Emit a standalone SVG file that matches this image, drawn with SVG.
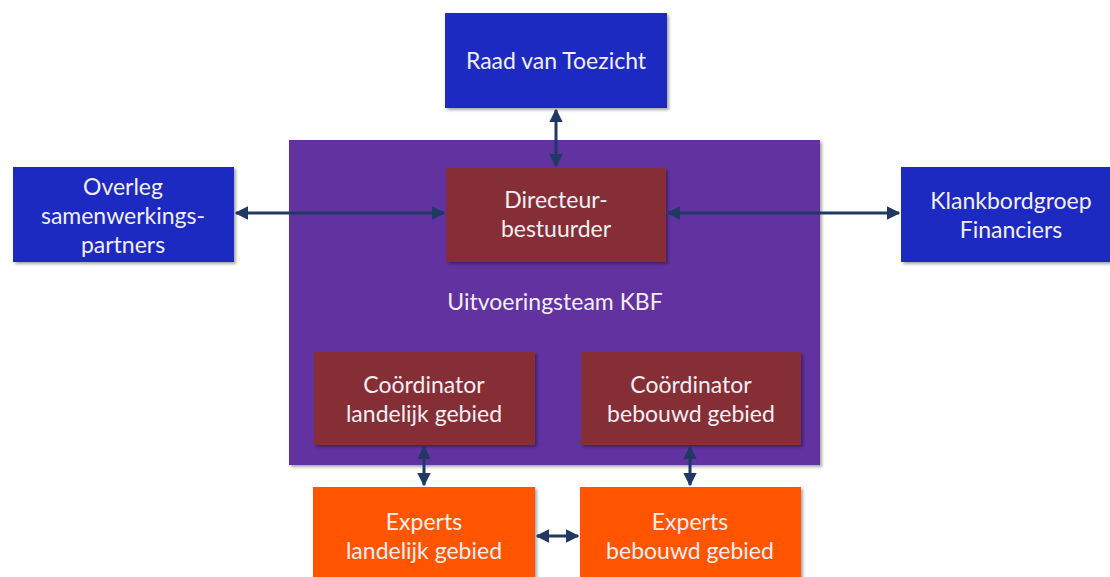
<svg xmlns="http://www.w3.org/2000/svg" width="1110" height="577" viewBox="0 0 1110 577">
<style>
.t{font-family:Lato,"Open Sans","Liberation Sans",sans-serif;font-size:23px;fill:#f2eef4;text-anchor:middle}
.blue{fill:#1e2cc2}
.purple{fill:#6232a0}
.red{fill:#862f36}
.orange{fill:#ff5400}
.c{stroke:#1f3864;stroke-width:3;fill:none;marker-start:url(#a);marker-end:url(#a)}
</style>
<defs>
<filter id="sh" x="-10%" y="-10%" width="125%" height="130%">
<feDropShadow dx="2" dy="2" stdDeviation="1.5" flood-color="#000" flood-opacity="0.35"/>
</filter>
<marker id="a" viewBox="0 0 10 10" refX="9" refY="5" markerWidth="4.5" markerHeight="4.5" orient="auto-start-reverse" markerUnits="strokeWidth">
<path d="M0,0 L10,5 L0,10 z" fill="#1f3864"/>
</marker>
</defs>
<rect width="1110" height="577" fill="#fff"/>
<g id="uitvoeringsteam">
<rect class="purple" x="289" y="140" width="531" height="325" filter="url(#sh)"/>
<text class="t" x="555" y="310">Uitvoeringsteam KBF</text>
</g>
<g id="raad">
<rect class="blue" x="445" y="13" width="222" height="95" filter="url(#sh)"/>
<text class="t" x="556" y="69">Raad van Toezicht</text>
</g>
<g id="directeur">
<rect class="red" x="446" y="168" width="220" height="94" filter="url(#sh)"/>
<text class="t" x="556" y="208">Directeur-</text>
<text class="t" x="556" y="237">bestuurder</text>
</g>
<g id="overleg">
<rect class="blue" x="13" y="167" width="221" height="95" filter="url(#sh)"/>
<text class="t" x="123" y="195">Overleg</text>
<text class="t" x="123" y="224">samenwerkings-</text>
<text class="t" x="123" y="253">partners</text>
</g>
<g id="klankbord">
<rect class="blue" x="901" y="167" width="212" height="95" filter="url(#sh)"/>
<text class="t" x="1011" y="209">Klankbordgroep</text>
<text class="t" x="1011" y="238">Financiers</text>
</g>
<g id="coord-landelijk">
<rect class="red" x="314" y="352" width="221" height="93" filter="url(#sh)"/>
<text class="t" x="424" y="393">Coördinator</text>
<text class="t" x="424" y="422">landelijk gebied</text>
</g>
<g id="coord-bebouwd">
<rect class="red" x="581" y="352" width="220" height="93" filter="url(#sh)"/>
<text class="t" x="691" y="393">Coördinator</text>
<text class="t" x="691" y="422">bebouwd gebied</text>
</g>
<g id="experts-landelijk">
<rect class="orange" x="313" y="487" width="222" height="95" filter="url(#sh)"/>
<text class="t" x="424" y="530">Experts</text>
<text class="t" x="424" y="559">landelijk gebied</text>
</g>
<g id="experts-bebouwd">
<rect class="orange" x="580" y="487" width="221" height="95" filter="url(#sh)"/>
<text class="t" x="690" y="530">Experts</text>
<text class="t" x="690" y="559">bebouwd gebied</text>
</g>
<g id="connectors">
<line class="c" x1="556" y1="110" x2="556" y2="166"/>
<line class="c" x1="236" y1="213" x2="444" y2="213"/>
<line class="c" x1="668" y1="213" x2="899" y2="213"/>
<line class="c" x1="424" y1="447" x2="424" y2="485"/>
<line class="c" x1="690" y1="447" x2="690" y2="485"/>
<line class="c" x1="537" y1="536" x2="578" y2="536"/>
</g>
</svg>
